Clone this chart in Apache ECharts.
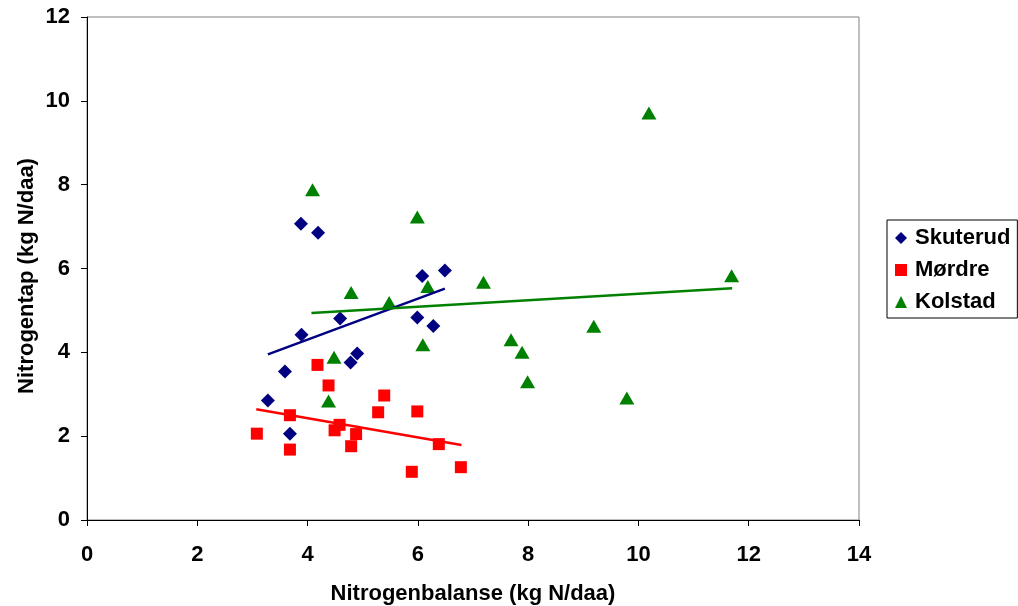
<!DOCTYPE html>
<html>
<head>
<meta charset="utf-8">
<script src="https://cdn.jsdelivr.net/npm/echarts@6/dist/echarts.min.js"></script>
<style>
html,body{margin:0;padding:0;background:#fff;}
#chart{width:1018px;height:606px;}
</style>
</head>
<body>
<div id="chart"></div>
<script>
// Data
const seriesNames = ['Skuterud', 'Mørdre', 'Kolstad'];
const xTickValues = [0, 2, 4, 6, 8, 10, 12, 14];
const yTickValues = [0, 2, 4, 6, 8, 10, 12];

const skuterudX = [3.88, 4.19, 6.08, 6.49, 4.59, 5.99, 6.28, 3.89, 3.59, 3.28, 3.68, 4.78, 4.90];
const skuterudY = [7.07, 6.85, 5.82, 5.95, 4.81, 4.83, 4.63, 4.42, 3.54, 2.85, 2.06, 3.76, 3.97];

const mordreX = [4.18, 4.38, 5.39, 5.28, 5.99, 3.68, 3.08, 3.68, 4.58, 4.49, 4.88, 4.79, 6.38, 5.89, 6.78];
const mordreY = [3.70, 3.21, 2.97, 2.57, 2.59, 2.50, 2.06, 1.68, 2.27, 2.14, 2.05, 1.76, 1.81, 1.15, 1.26];

const kolstadX = [4.09, 5.99, 4.79, 5.48, 6.18, 7.19, 4.48, 6.09, 4.38, 7.69, 7.89, 7.99, 9.19, 9.79, 10.19, 11.69];
const kolstadY = [7.88, 7.23, 5.43, 5.19, 5.57, 5.67, 3.88, 4.18, 2.84, 4.30, 4.00, 3.30, 4.62, 2.91, 9.71, 5.83];

// Trend line end points (x, y)
const skuterudTrendX = [3.28, 6.49];
const skuterudTrendY = [3.95, 5.52];
const mordreTrendX = [3.07, 6.79];
const mordreTrendY = [2.64, 1.79];
const kolstadTrendX = [4.07, 11.70];
const kolstadTrendY = [4.94, 5.53];

const colors = ['#000080', '#FF0000', '#008000'];
const symbols = ['diamond', 'rect', 'triangle'];

function pairs(xs, ys) { return xs.map((x, i) => [x, ys[i]]); }

const FONT = 'Arial, "Liberation Sans", sans-serif';
const chart = echarts.init(document.getElementById('chart'));

const scatterData = [pairs(skuterudX, skuterudY), pairs(mordreX, mordreY), pairs(kolstadX, kolstadY)];
const trendData = [pairs(skuterudTrendX, skuterudTrendY), pairs(mordreTrendX, mordreTrendY), pairs(kolstadTrendX, kolstadTrendY)];
const symbolSizes = [14, 12, [15, 13]];

const series = [];
seriesNames.forEach((name, i) => {
  series.push({
    name: name, type: 'scatter', data: scatterData[i],
    symbol: symbols[i], symbolSize: symbolSizes[i],
    itemStyle: { color: colors[i], opacity: 1 },
    z: 2, silent: true
  });
});
seriesNames.forEach((name, i) => {
  series.push({
    name: name + ' trend', type: 'line', data: trendData[i],
    showSymbol: false, symbol: 'none',
    lineStyle: { color: colors[i], width: 2.5 },
    z: 3, silent: true, animation: false
  });
});

chart.setOption({
  animation: false,
  backgroundColor: '#fff',
  textStyle: { fontFamily: FONT },
  grid: { left: 87, right: 159, top: 17, bottom: 86, containLabel: false, outerBoundsMode: 'none',
          show: true, borderColor: '#808080', borderWidth: 1, backgroundColor: 'transparent' },
  xAxis: {
    type: 'value', min: xTickValues[0], max: xTickValues[xTickValues.length - 1], interval: 2,
    axisLine: { show: true, lineStyle: { color: '#000', width: 1 } },
    axisTick: { show: true, inside: false, length: 6, lineStyle: { color: '#000' } },
    splitLine: { show: false },
    axisLabel: { color: '#000', fontWeight: 'bold', fontSize: 22, fontFamily: FONT, margin: 24 },
    name: 'Nitrogenbalanse (kg N/daa)', nameLocation: 'middle', nameGap: 63,
    nameTextStyle: { color: '#000', fontWeight: 'bold', fontSize: 22, fontFamily: FONT }
  },
  yAxis: {
    type: 'value', min: yTickValues[0], max: yTickValues[yTickValues.length - 1], interval: 2,
    axisLine: { show: true, lineStyle: { color: '#000', width: 1 } },
    axisTick: { show: true, inside: false, length: 6, lineStyle: { color: '#000' } },
    splitLine: { show: false },
    axisLabel: { color: '#000', fontWeight: 'bold', fontSize: 22, fontFamily: FONT, margin: 17 }
  },
  graphic: [{
    type: 'text', x: 27, y: 276, rotation: Math.PI / 2,
    style: { text: 'Nitrogentap (kg N/daa)', fill: '#000', font: 'bold 22px ' + FONT, textAlign: 'center', textVerticalAlign: 'middle', align: 'center', verticalAlign: 'middle' }
  }],
  legend: {
    orient: 'vertical', left: 887, top: 220,
    data: seriesNames.map((n, i) => ({ name: n, icon: symbols[i] })),
    itemWidth: 12, itemHeight: 12, itemGap: 10,
    padding: [7, 7, 5, 8],
    borderColor: '#000', borderWidth: 1,
    textStyle: { color: '#000', fontWeight: 'bold', fontSize: 22, fontFamily: FONT, padding: [0, 0, 0, 3] },
    selectedMode: false
  },
  series: series
});
</script>
</body>
</html>
